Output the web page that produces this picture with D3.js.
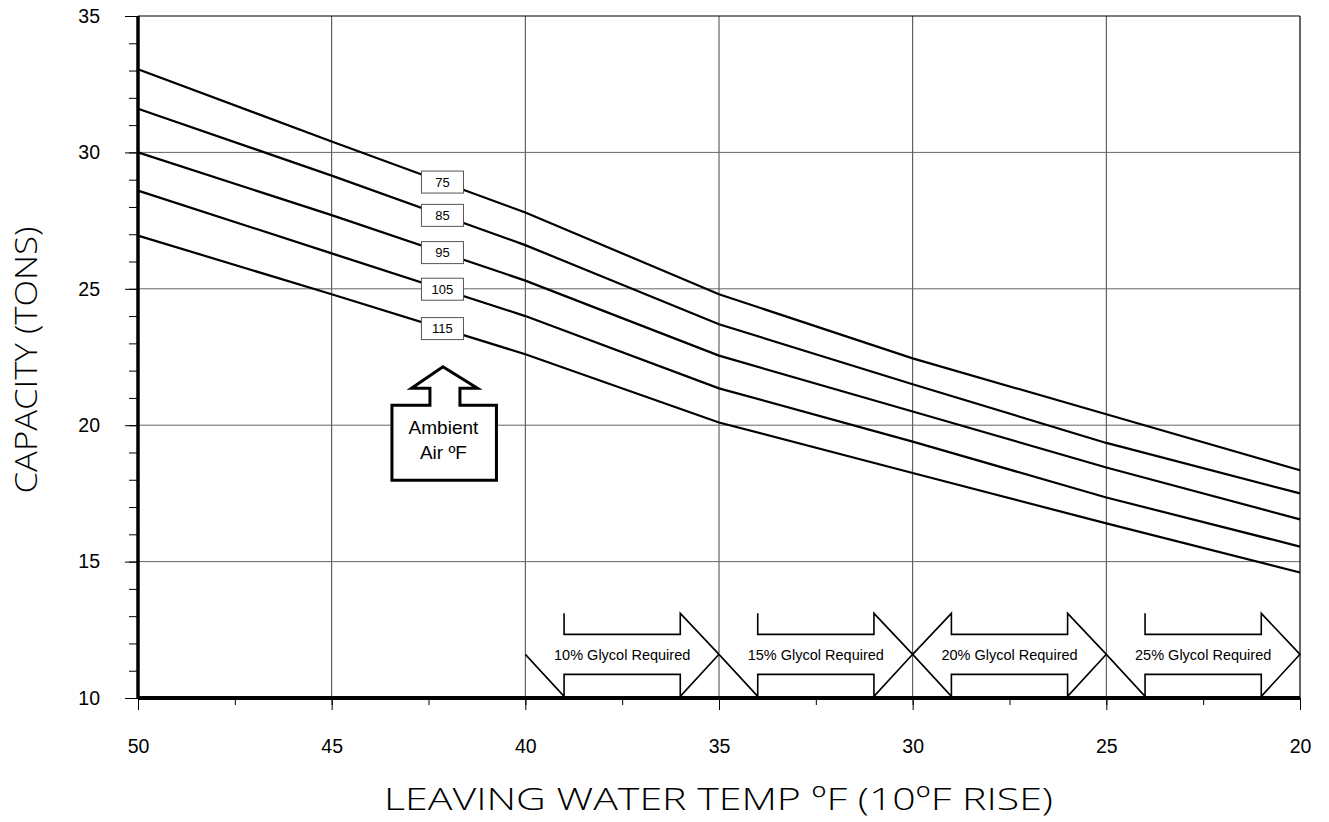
<!DOCTYPE html>
<html>
<head>
<meta charset="utf-8">
<script src="https://cdn.jsdelivr.net/npm/d3@7"></script>
<style>
  body { margin: 0; background: #fff; }
  text { font-family: "Liberation Sans", Arial, sans-serif; }
</style>
</head>
<body>
<div id="chart"></div>
<script>
// leaving water temps (x) and capacity per ambient air temp
var temps = [50, 45, 40, 35, 30, 25, 20];
var ambients = ["75", "85", "95", "105", "115"];
var cap75  = [33.05, 30.4, 27.8, 24.8, 22.45, 20.4, 18.35];
var cap85  = [31.6, 29.15, 26.6, 23.7, 21.5, 19.35, 17.5];
var cap95  = [30.0, 27.7, 25.3, 22.55, 20.5, 18.45, 16.55];
var cap105 = [28.6, 26.3, 24.0, 21.35, 19.4, 17.35, 15.55];
var cap115 = [26.95, 24.8, 22.6, 20.1, 18.25, 16.4, 14.6];
var xTicks = [50, 45, 40, 35, 30, 25, 20];
var yTicks = [10, 15, 20, 25, 30, 35];
var glycolFrom = [40, 35, 30, 25];
var glycolText = ["10% Glycol Required", "15% Glycol Required", "20% Glycol Required", "25% Glycol Required"];
var glycolDouble = [false, false, true, false];
var labelTemp = 42.14;

var series = [cap75, cap85, cap95, cap105, cap115].map(function(vals, i) {
    return { name: ambients[i], values: vals.map(function(v, j) { return { t: temps[j], c: v }; }) };
});

var margin = {top: 16, right: 29, bottom: 124, left: 138},
    width = 1162,
    height = 682;

var svg = d3.select("#chart").append("svg")
    .attr("width", width + margin.left + margin.right)
    .attr("height", height + margin.top + margin.bottom)
    .append("g")
    .attr("transform", "translate(" + margin.left + "," + margin.top + ")");

var x = d3.scaleLinear().domain([50, 20]).range([0, width]);
var y = d3.scaleLinear().domain([10, 35]).range([height, 0]);

// grid
svg.selectAll(".vgrid").data(xTicks.slice(1, -1)).enter().append("line")
    .attr("x1", d => x(d)).attr("x2", d => x(d))
    .attr("y1", 0).attr("y2", height)
    .attr("stroke", "#444").attr("stroke-width", 1);
svg.selectAll(".hgrid").data(yTicks.slice(1, -1)).enter().append("line")
    .attr("x1", 0).attr("x2", width)
    .attr("y1", d => y(d)).attr("y2", d => y(d))
    .attr("stroke", "#666").attr("stroke-width", 1);

// top and right border
svg.append("line").attr("x1", 0).attr("x2", width).attr("y1", 0).attr("y2", 0)
    .attr("stroke", "#000").attr("stroke-width", 1.2);
svg.append("line").attr("x1", width).attr("x2", width).attr("y1", 0).attr("y2", height)
    .attr("stroke", "#000").attr("stroke-width", 1.2);

// capacity lines
var line = d3.line().x(d => x(d.t)).y(d => y(d.c));
svg.selectAll(".cap").data(series).enter().append("path")
    .attr("d", d => line(d.values))
    .attr("fill", "none")
    .attr("stroke", "#000")
    .attr("stroke-width", 2.2);

// labels on the lines
function valueAt(vals, t) {
    var interp = d3.scaleLinear().domain(temps).range(vals.map(v => v.c));
    return interp(t);
}
var labels = svg.selectAll(".lab").data(series).enter().append("g")
    .attr("transform", d => "translate(" + x(labelTemp) + "," + y(valueAt(d.values, labelTemp)) + ")");
labels.append("rect")
    .attr("x", -21).attr("y", -11).attr("width", 42).attr("height", 22)
    .attr("fill", "#fff").attr("stroke", "#555").attr("stroke-width", 1);
labels.append("text")
    .attr("text-anchor", "middle").attr("dy", "0.36em")
    .style("font-size", "13px")
    .text(d => d.name);

// ambient air callout
var ax = x(labelTemp), ay = y(20);
var callout = [
    [-50.5, 55], [-50.5, -20], [-12.5, -20], [-12.5, -37], [-31, -37], [0.5, -58.5],
    [35, -37], [17.5, -37], [17.5, -20], [54, -20], [54, 55]
];
var cg = svg.append("g").attr("transform", "translate(" + ax + "," + ay + ")");
cg.append("path")
    .attr("d", "M" + callout.map(p => p.join(",")).join("L") + "Z")
    .attr("fill", "#fff").attr("stroke", "#000").attr("stroke-width", 3)
    .attr("stroke-linejoin", "miter");
cg.append("text").attr("text-anchor", "middle").attr("x", 1).attr("y", 9)
    .style("font-size", "19px").text("Ambient");
cg.append("text").attr("text-anchor", "middle").attr("x", 1).attr("y", 34)
    .style("font-size", "19px").text("Air \u00BAF");

// glycol arrows
var gc = y(11.6);
glycolFrom.forEach(function(a, i) {
    var x0 = x(a), x1 = x(a - 1), x4 = x(a - 4), x5 = x(a - 5);
    var top = gc - 41, bot = gc + 42, st = gc - 20, sb = gc + 20;
    var pts;
    if (glycolDouble[i]) {
        pts = [[x0, gc], [x1, top], [x1, st], [x4, st], [x4, top], [x5, gc], [x4, bot], [x4, sb], [x1, sb], [x1, bot], [x0, gc]];
    } else {
        pts = [[x1, top], [x1, st], [x4, st], [x4, top], [x5, gc], [x4, bot], [x4, sb], [x1, sb], [x1, bot], [x0, gc]];
    }
    svg.append("path")
        .attr("d", "M" + pts.map(p => p.join(",")).join("L") + "Z")
        .attr("fill", "#fff").attr("stroke", "none");
    svg.append("path")
        .attr("d", "M" + pts.map(p => p.join(",")).join("L"))
        .attr("fill", "none").attr("stroke", "#000").attr("stroke-width", 1.6);
    svg.append("text")
        .attr("x", (x0 + x5) / 2).attr("y", gc).attr("dy", "0.36em")
        .attr("text-anchor", "middle")
        .style("font-size", "14.5px")
        .text(glycolText[i]);
});

// axes
var yMinor = d3.range(10, 36, 1);
svg.append("g")
    .call(d3.axisLeft(y).tickValues(yMinor).tickSize(9).tickFormat(""))
    .call(g => g.select(".domain").remove());
svg.append("g")
    .call(d3.axisLeft(y).tickValues(yTicks).tickSize(13).tickPadding(25).tickFormat(d3.format("d")))
    .call(g => g.select(".domain").remove())
    .selectAll("text").style("font-size", "19.5px").attr("fill", "#000");

svg.append("g").attr("transform", "translate(0," + height + ")")
    .call(d3.axisBottom(x).tickValues(d3.range(20, 50.1, 2.5)).tickSize(7).tickFormat(""))
    .call(g => g.select(".domain").remove());
svg.append("g").attr("transform", "translate(0," + height + ")")
    .call(d3.axisBottom(x).tickValues(xTicks).tickSize(12).tickPadding(29).tickFormat(d3.format("d")))
    .call(g => g.select(".domain").remove())
    .selectAll("text").style("font-size", "19.5px").attr("fill", "#000");

svg.selectAll(".tick line").attr("stroke", "#000");

svg.append("line").attr("x1", 0).attr("x2", width).attr("y1", height).attr("y2", height)
    .attr("stroke", "#000").attr("stroke-width", 4);
svg.append("line").attr("x1", 0).attr("x2", 0).attr("y1", 0).attr("y2", height)
    .attr("stroke", "#000").attr("stroke-width", 3.5);

// axis titles
svg.append("text")
    .attr("x", 718.5 - margin.left)
    .attr("y", 810 - margin.top)
    .attr("text-anchor", "middle")
    .attr("textLength", 669).attr("lengthAdjust", "spacingAndGlyphs")
    .style("font-family", "'Open Sans', 'DejaVu Sans', sans-serif")
    .style("font-weight", 300)
    .style("font-size", "32px")
    .text("LEAVING WATER TEMP \u00BAF (10\u00BAF RISE)");

svg.append("text")
    .attr("transform", "translate(" + (37 - margin.left) + "," + (360 - margin.top) + ") rotate(-90)")
    .attr("text-anchor", "middle")
    .attr("textLength", 267).attr("lengthAdjust", "spacingAndGlyphs")
    .style("font-family", "'Open Sans', 'DejaVu Sans', sans-serif")
    .style("font-weight", 300)
    .style("font-size", "32px")
    .text("CAPACITY (TONS)");
</script>
</body>
</html>
